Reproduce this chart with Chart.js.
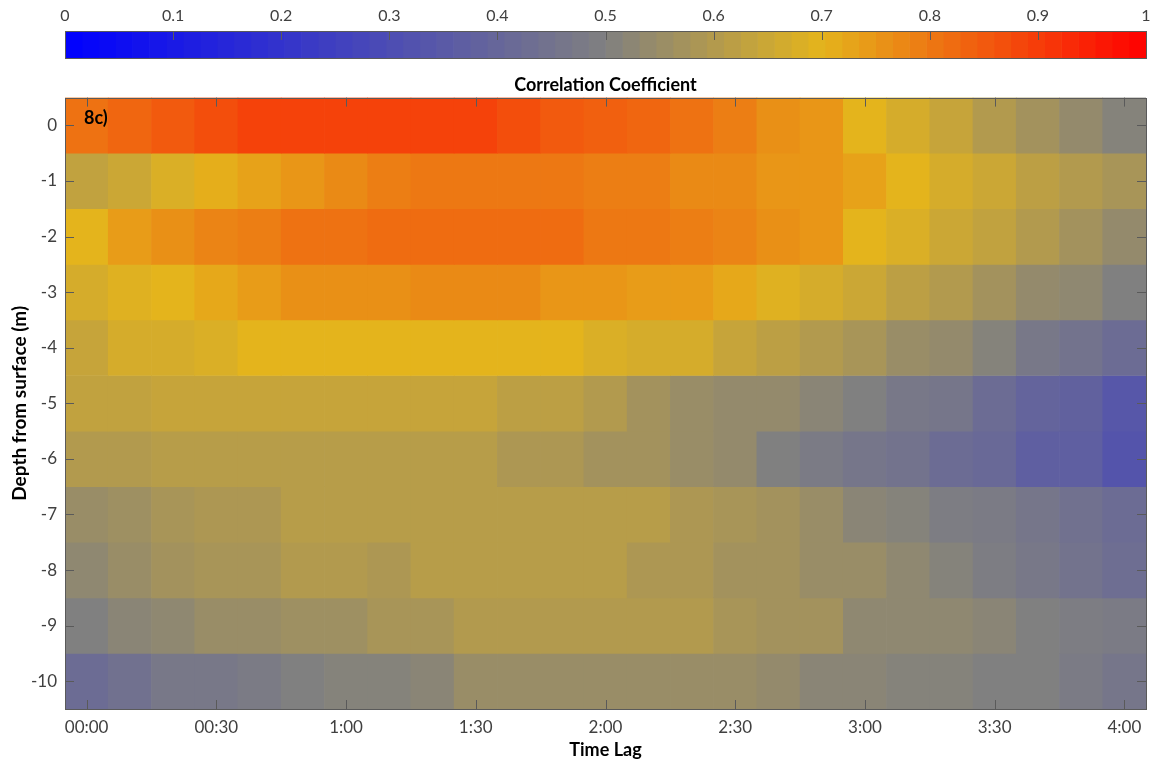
<!DOCTYPE html>
<html>
<head>
<meta charset="utf-8">
<script src="https://cdn.jsdelivr.net/npm/chart.js@4.4.0/dist/chart.umd.min.js"></script>
<style>
  html, body { margin: 0; padding: 0; background: #fff; }
  #wrap { position: relative; width: 1161px; height: 769px; }
  #main, #cbar { position: absolute; left: 0; top: 0; }
</style>
</head>
<body>
<div id="wrap">
  <canvas id="main" width="1161" height="769"></canvas>
  <canvas id="cbar" width="1161" height="62"></canvas>
</div>
<script>
/////////////////////
//      Data       //
/////////////////////
const LAG_MINUTES = [0, 10, 20, 30, 40, 50, 60, 70, 80, 90, 100, 110, 120,
  130, 140, 150, 160, 170, 180, 190, 200, 210, 220, 230, 240];
const DEPTHS = [0, -1, -2, -3, -4, -5, -6, -7, -8, -9, -10];
const X_TICKS = [0, 30, 60, 90, 120, 150, 180, 210, 240];
const X_TICK_LABELS = ['00:00', '00:30', '1:00', '1:30', '2:00', '2:30', '3:00', '3:30', '4:00'];
const Y_TICKS = [0, -1, -2, -3, -4, -5, -6, -7, -8, -9, -10];
const CBAR_TICKS = [0, 0.1, 0.2, 0.3, 0.4, 0.5, 0.6, 0.7, 0.8, 0.9, 1];
const CBAR_TICK_LABELS = ['0', '0.1', '0.2', '0.3', '0.4', '0.5', '0.6', '0.7', '0.8', '0.9', '1'];

// correlation coefficient per depth row, one value per 10 min lag
const corr0m = [0.81, 0.83, 0.85, 0.87, 0.89, 0.89, 0.89, 0.89, 0.89, 0.89, 0.87, 0.85, 0.84, 0.83, 0.81, 0.79, 0.76, 0.75, 0.70, 0.67, 0.64, 0.60, 0.57, 0.54, 0.51];
const corr1m = [0.63, 0.65, 0.68, 0.71, 0.73, 0.75, 0.77, 0.79, 0.80, 0.80, 0.80, 0.80, 0.79, 0.79, 0.77, 0.77, 0.75, 0.75, 0.73, 0.70, 0.67, 0.65, 0.62, 0.60, 0.58];
const corr2m = [0.70, 0.74, 0.76, 0.78, 0.79, 0.81, 0.81, 0.82, 0.82, 0.82, 0.82, 0.82, 0.80, 0.80, 0.79, 0.78, 0.76, 0.75, 0.70, 0.68, 0.65, 0.63, 0.60, 0.57, 0.54];
const corr3m = [0.67, 0.69, 0.70, 0.72, 0.74, 0.76, 0.76, 0.76, 0.77, 0.77, 0.77, 0.75, 0.75, 0.74, 0.74, 0.72, 0.69, 0.67, 0.65, 0.62, 0.60, 0.57, 0.54, 0.53, 0.50];
const corr4m = [0.64, 0.67, 0.67, 0.68, 0.70, 0.70, 0.70, 0.70, 0.70, 0.70, 0.70, 0.70, 0.68, 0.67, 0.67, 0.64, 0.62, 0.60, 0.58, 0.55, 0.54, 0.51, 0.47, 0.45, 0.42];
const corr5m = [0.63, 0.63, 0.64, 0.64, 0.64, 0.64, 0.64, 0.64, 0.64, 0.64, 0.62, 0.62, 0.60, 0.57, 0.55, 0.54, 0.54, 0.52, 0.50, 0.47, 0.46, 0.42, 0.39, 0.38, 0.34];
const corr6m = [0.60, 0.60, 0.61, 0.61, 0.61, 0.61, 0.61, 0.61, 0.61, 0.61, 0.59, 0.59, 0.57, 0.57, 0.55, 0.54, 0.50, 0.48, 0.46, 0.45, 0.42, 0.41, 0.37, 0.37, 0.33];
const corr7m = [0.55, 0.56, 0.58, 0.59, 0.59, 0.61, 0.61, 0.61, 0.61, 0.61, 0.61, 0.61, 0.61, 0.61, 0.59, 0.58, 0.57, 0.55, 0.52, 0.51, 0.49, 0.48, 0.46, 0.44, 0.42];
const corr8m = [0.53, 0.55, 0.57, 0.58, 0.58, 0.60, 0.60, 0.59, 0.61, 0.61, 0.61, 0.61, 0.61, 0.59, 0.59, 0.57, 0.57, 0.55, 0.55, 0.53, 0.51, 0.49, 0.47, 0.45, 0.43];
const corr9m = [0.50, 0.52, 0.53, 0.55, 0.55, 0.56, 0.56, 0.58, 0.58, 0.60, 0.60, 0.60, 0.60, 0.60, 0.60, 0.58, 0.57, 0.57, 0.53, 0.53, 0.53, 0.52, 0.50, 0.49, 0.48];
const corr10m = [0.42, 0.44, 0.47, 0.47, 0.48, 0.50, 0.51, 0.51, 0.52, 0.55, 0.55, 0.55, 0.55, 0.55, 0.55, 0.55, 0.54, 0.52, 0.52, 0.51, 0.51, 0.50, 0.50, 0.48, 0.46];
const ROWS = [corr0m, corr1m, corr2m, corr3m, corr4m, corr5m, corr6m, corr7m, corr8m, corr9m, corr10m];

// colormap: blue -> grey -> gold -> red
const CMAP_STOPS = [0, 0.5, 0.7, 1];
const CMAP_RGB = [[0, 0, 255], [128, 128, 128], [228, 180, 28], [255, 0, 0]];
const CBAR_LEVELS = 64;

/////////////////////
//      Style      //
/////////////////////
const FONT = 'Lato, "Open Sans", sans-serif';
const TICK_COLOR = '#404040';
const AXIS_COLOR = '#5a5a5a';
const TICK_LEN = 9;

function colorFor(v) {
  let i = 0;
  while (i < CMAP_STOPS.length - 2 && v > CMAP_STOPS[i + 1]) i++;
  const t = Math.min(1, Math.max(0, (v - CMAP_STOPS[i]) / (CMAP_STOPS[i + 1] - CMAP_STOPS[i])));
  const a = CMAP_RGB[i], b = CMAP_RGB[i + 1];
  const c = a.map((x, k) => Math.round(x + (b[k] - x) * t));
  return `rgb(${c[0]}, ${c[1]}, ${c[2]})`;
}

// inward ticks, box and panel label for the heat map
const frameTicks = {
  id: 'frameTicks',
  afterDatasetsDraw(chart) {
    const {ctx, chartArea: a, scales: {x, y}} = chart;
    ctx.save();
    ctx.strokeStyle = AXIS_COLOR;
    ctx.lineWidth = 1;
    ctx.beginPath();
    X_TICKS.forEach(v => {
      const px = Math.round(x.getPixelForValue(v)) + 0.5;
      ctx.moveTo(px, a.bottom); ctx.lineTo(px, a.bottom - TICK_LEN);
      ctx.moveTo(px, a.top); ctx.lineTo(px, a.top + TICK_LEN);
    });
    Y_TICKS.forEach(v => {
      const py = Math.round(y.getPixelForValue(v)) + 0.5;
      ctx.moveTo(a.left, py); ctx.lineTo(a.left + TICK_LEN, py);
      ctx.moveTo(a.right, py); ctx.lineTo(a.right - TICK_LEN, py);
    });
    ctx.stroke();
    ctx.strokeRect(Math.round(a.left) + 0.5, Math.round(a.top) + 0.5,
      Math.round(a.right - a.left), Math.round(a.bottom - a.top));
    ctx.fillStyle = '#000';
    ctx.font = `bold 18px ${FONT}`;
    ctx.textBaseline = 'middle';
    ctx.fillText('8c)', a.left + 19, a.top + 21);
    ctx.restore();
  }
};

const cbarFrame = {
  id: 'cbarFrame',
  afterDatasetsDraw(chart) {
    const {ctx, chartArea: a, scales: {x}} = chart;
    ctx.save();
    ctx.strokeStyle = AXIS_COLOR;
    ctx.lineWidth = 1;
    ctx.beginPath();
    CBAR_TICKS.slice(1, -1).forEach(v => {
      const px = Math.round(x.getPixelForValue(v)) + 0.5;
      ctx.moveTo(px, a.top); ctx.lineTo(px, a.top + TICK_LEN);
    });
    ctx.stroke();
    ctx.strokeRect(Math.round(a.left) + 0.5, Math.round(a.top) + 0.5,
      Math.round(a.right - a.left), Math.round(a.bottom - a.top));
    ctx.restore();
  }
};

///////////////////////
//    Heat map       //
///////////////////////
const datasets = DEPTHS.map((d, r) => ({
  data: LAG_MINUTES.map(t => ({x: t, y: [d - 0.5, d + 0.5]})),
  backgroundColor: ROWS[r].map(colorFor),
  borderWidth: 0,
  grouped: false,
  barPercentage: 1,
  categoryPercentage: 1
}));

new Chart(document.getElementById('main'), {
  type: 'bar',
  data: {datasets},
  options: {
    responsive: false,
    animation: false,
    layout: {padding: {top: 70, right: 15, left: 0, bottom: 0}},
    plugins: {
      legend: {display: false},
      tooltip: {enabled: false},
      title: {
        display: true,
        fullSize: false,   // centre over the plot area, not the canvas
        text: 'Correlation Coefficient',
        color: '#000',
        font: {family: FONT, size: 18, weight: 'bold'},
        padding: {top: 4, bottom: 2}
      }
    },
    scales: {
      x: {
        type: 'linear',
        min: -5,
        max: 245,
        offset: false,
        afterBuildTicks: s => { s.ticks = X_TICKS.map(v => ({value: v})); },
        afterFit: s => { s.height = 60; },
        grid: {display: false, drawTicks: false},
        border: {display: false},
        ticks: {
          autoSkip: false,
          maxRotation: 0,
          padding: 8,
          color: TICK_COLOR,
          font: {family: FONT, size: 17},
          callback: (v, i) => X_TICK_LABELS[i]
        },
        title: {
          display: true,
          text: 'Time Lag',
          color: '#000',
          font: {family: FONT, size: 18, weight: 'bold'},
          padding: {top: 0, bottom: 8}
        }
      },
      y: {
        type: 'linear',
        min: -10.5,
        max: 0.5,
        afterBuildTicks: s => { s.ticks = Y_TICKS.map(v => ({value: v})); },
        afterFit: s => { s.width = 65; },
        grid: {display: false, drawTicks: false},
        border: {display: false},
        ticks: {
          padding: 8,
          color: TICK_COLOR,
          font: {family: FONT, size: 17},
          callback: v => String(v)
        },
        title: {
          display: true,
          text: 'Depth from surface (m)',
          color: '#000',
          font: {family: FONT, size: 19, weight: 'bold'},
          padding: {top: 8, bottom: 0}
        }
      }
    }
  },
  plugins: [frameTicks]
});

///////////////////////
//     Colour bar    //
///////////////////////
const cbarDatasets = [];
for (let i = 0; i < CBAR_LEVELS; i++) {
  cbarDatasets.push({
    data: [1 / CBAR_LEVELS],
    backgroundColor: colorFor((i + 0.5) / CBAR_LEVELS),
    borderWidth: 0,
    barPercentage: 1,
    categoryPercentage: 1
  });
}

new Chart(document.getElementById('cbar'), {
  type: 'bar',
  data: {labels: [''], datasets: cbarDatasets},
  options: {
    indexAxis: 'y',
    responsive: false,
    animation: false,
    layout: {padding: {left: 65, right: 15, top: 0, bottom: 4}},
    plugins: {legend: {display: false}, tooltip: {enabled: false}},
    scales: {
      x: {
        type: 'linear',
        position: 'top',
        stacked: true,
        min: 0,
        max: 1,
        offset: false,
        afterBuildTicks: s => { s.ticks = CBAR_TICKS.map(v => ({value: v})); },
        afterFit: s => { s.height = 31; },
        grid: {display: false, drawTicks: false},
        border: {display: false},
        ticks: {
          autoSkip: false,
          maxRotation: 0,
          padding: 6,
          color: TICK_COLOR,
          font: {family: FONT, size: 16},
          callback: (v, i) => CBAR_TICK_LABELS[i]
        }
      },
      y: {display: false, stacked: true}
    }
  },
  plugins: [cbarFrame]
});
</script>
</body>
</html>
